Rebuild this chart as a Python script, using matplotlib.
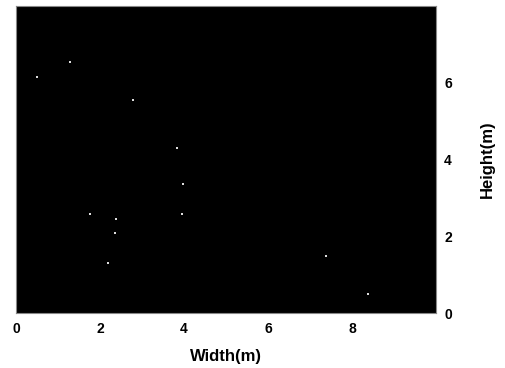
import numpy as np
import matplotlib
matplotlib.use('Agg')
import matplotlib.pyplot as plt

# point positions (metres)
width_m = [0.5, 1.29, 2.78, 3.83, 3.98, 3.95, 1.75, 2.37, 2.35, 2.2, 7.38, 8.38]
height_m = [6.16, 6.53, 5.55, 4.3, 3.37, 2.58, 2.58, 2.45, 2.1, 1.3, 1.5, 0.5]

xticks = [0, 2, 4, 6, 8]
yticks = [0, 2, 4, 6]

plt.rcParams['font.family'] = ['Liberation Sans', 'DejaVu Sans']

fig = plt.figure(figsize=(5.05, 3.68), dpi=100)
ax = fig.add_axes([0.032, 0.149, 0.831, 0.835])
ax.set_facecolor('black')
ax.scatter(width_m, height_m, s=3, marker='s', color='#dddddd', linewidths=0)

ax.set_xlim(0, 10)
ax.set_ylim(0, 8)
ax.set_xticks(xticks)
ax.set_yticks(yticks)
ax.yaxis.tick_right()
ax.yaxis.set_label_position('right')
ax.tick_params(length=0, labelsize=10, pad=6)
for lab in ax.get_xticklabels() + ax.get_yticklabels():
    lab.set_fontweight('bold')
for s in ax.spines.values():
    s.set_color('#888888')
    s.set_linewidth(0.8)

ax.set_xlabel('Width(m)', fontsize=12, fontweight='bold', labelpad=10)
ax.set_ylabel('Height(m)', fontsize=12, fontweight='bold', labelpad=20)

fig.savefig('out.png', dpi=100)
